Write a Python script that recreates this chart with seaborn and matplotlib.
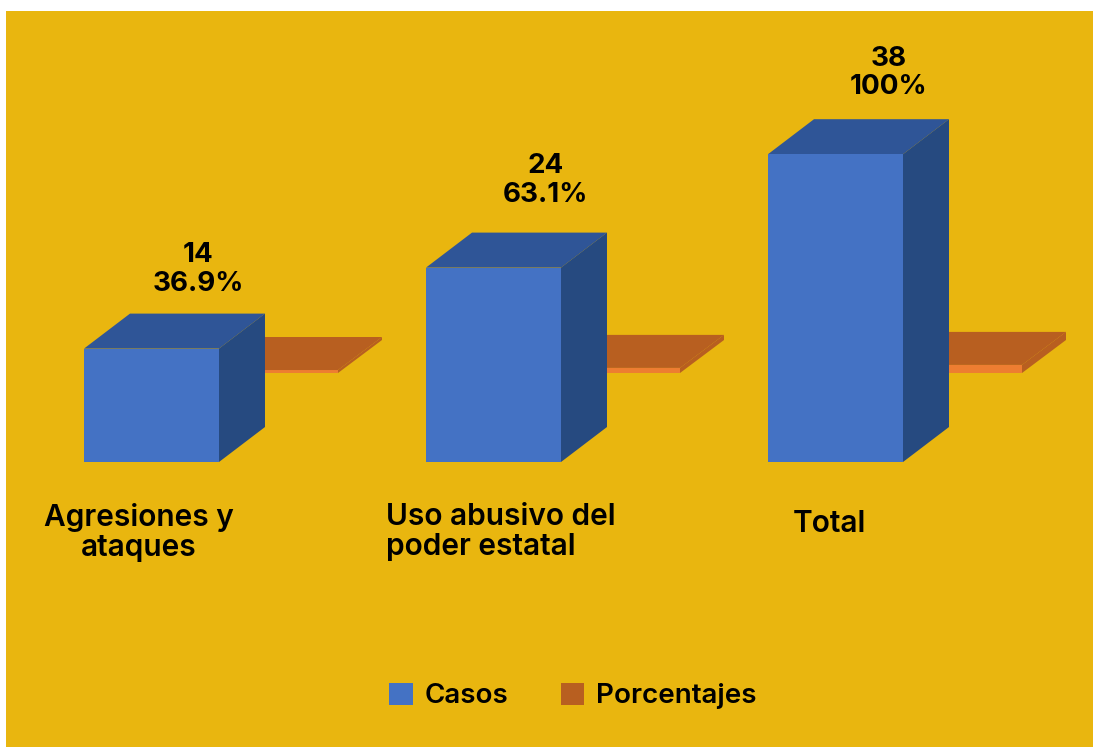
import pandas as pd
import matplotlib
matplotlib.use('Agg')
import matplotlib.pyplot as plt
import seaborn as sns
from matplotlib.patches import Polygon, Patch

# Data
categorias = ['Agresiones y\nataques', 'Uso abusivo del\npoder estatal', 'Total']
casos = [14, 24, 38]
porcentajes = [36.9, 63.1, 100]
etiquetas_pct = ['36.9%', '63.1%', '100%']

df = pd.DataFrame({
    'categoria': categorias * 2,
    'serie': ['Casos'] * 3 + ['Porcentajes'] * 3,
    'valor': casos + [p / 100 for p in porcentajes],
})

# Colours
FONDO = '#E9B60F'
AZUL = '#4472C4'
AZUL_TOP = '#2F5597'
AZUL_LADO = '#264A80'
NARANJA = '#ED7D31'
NARANJA_TOP = '#B85F20'

sns.set_theme(style='white')
plt.rcParams['font.family'] = ['Inter', 'DejaVu Sans']

fig = plt.figure(figsize=(10.93, 7.47), dpi=100, facecolor='white')
ax = fig.add_axes([6 / 1093, 0, 1087 / 1093, 736 / 747], facecolor=FONDO)

# Scale: 342 px per category, 8.1 px per case
PX_X = 342
PX_Y = 8.1
sns.barplot(data=df, x='categoria', y='valor', hue='serie', order=categorias,
            hue_order=['Casos', 'Porcentajes'], palette=[AZUL, NARANJA],
            width=0.7427, gap=0, saturation=1, legend=False, edgecolor='none',
            linewidth=0, ax=ax)
ax.set_xlim((6 - 215) / PX_X, (1093 - 215) / PX_X)
ax.set_ylim(-(747 - 462) / PX_Y, (462 - 11) / PX_Y)
ax.set_xlabel('')
ax.set_ylabel('')
ax.set_xticks([])
ax.set_yticks([])
sns.despine(ax=ax, left=True, bottom=True)

barras = [b for b in ax.patches if b.get_height() > 0]
azules = barras[:3]
naranjas = barras[3:6]


def cubo(x0, x1, y0, y1, dx, dy, c_top, c_lado, z):
    # top and side faces of the fake 3D bar
    ax.add_patch(Polygon([(x0, y1), (x1, y1), (x1 + dx, y1 + dy), (x0 + dx, y1 + dy)],
                         facecolor=c_top, edgecolor='none', zorder=z))
    ax.add_patch(Polygon([(x1, y0), (x1, y1), (x1 + dx, y1 + dy), (x1 + dx, y0 + dy)],
                         facecolor=c_lado, edgecolor='none', zorder=z))


# Orange slabs float above the floor and sit behind the blue boxes
for b in naranjas:
    derecha = b.get_x() + b.get_width() - 4 / PX_X
    b.set_x(derecha - 119 / PX_X)
    b.set_width(119 / PX_X)
    b.set_y(89 / PX_Y)
    b.set_zorder(2)
    cubo(b.get_x(), derecha, b.get_y(), b.get_y() + b.get_height(),
         44 / PX_X, 33 / PX_Y, NARANJA_TOP, NARANJA_TOP, 2)

# Label offsets from the box, in px
despl_x = [47, 52, 53]
despl_y = [17, 25, 19]

for b, n, p, ox, oy in zip(azules, casos, etiquetas_pct, despl_x, despl_y):
    centro = b.get_x() + b.get_width() / 2
    b.set_x(centro - 67.5 / PX_X)
    b.set_width(135 / PX_X)
    b.set_zorder(4)
    cubo(b.get_x(), b.get_x() + b.get_width(), 0, n, 46 / PX_X, 35 / PX_Y,
         AZUL_TOP, AZUL_LADO, 3)
    ax.text(centro + ox / PX_X, n + 35 / PX_Y + oy / PX_Y, f'{n}\n{p}',
            ha='center', va='bottom', fontsize=20, fontweight='bold',
            color='black', linespacing=1.12, zorder=5)

# Category names, placed like the original text boxes
ax.text((139 - 215) / PX_X, -41 / PX_Y, categorias[0], ha='center', va='top',
        fontsize=21.5, fontweight='semibold', color='black', linespacing=1.07)
ax.text((386 - 215) / PX_X, -41 / PX_Y, categorias[1], ha='left', va='top',
        fontsize=21.5, fontweight='semibold', color='black', linespacing=1.07)
ax.text((829 - 215) / PX_X, -48 / PX_Y, categorias[2], ha='center', va='top',
        fontsize=21.5, fontweight='semibold', color='black')

leyenda = [Patch(facecolor=AZUL, edgecolor='none', label='Casos'),
           Patch(facecolor=NARANJA_TOP, edgecolor='none', label='Porcentajes')]
ax.legend(handles=leyenda, loc='center', ncol=2, frameon=False,
          prop={'size': 20, 'weight': 'semibold'}, handlelength=0.86, handleheight=0.86,
          handletextpad=0.43, columnspacing=1.87, labelcolor='black',
          borderpad=0, borderaxespad=0)
ax.get_legend().set_bbox_to_anchor((573 / 1093, 1 - 696 / 747), transform=fig.transFigure)

fig.savefig('out.png', dpi=100, facecolor='white')
